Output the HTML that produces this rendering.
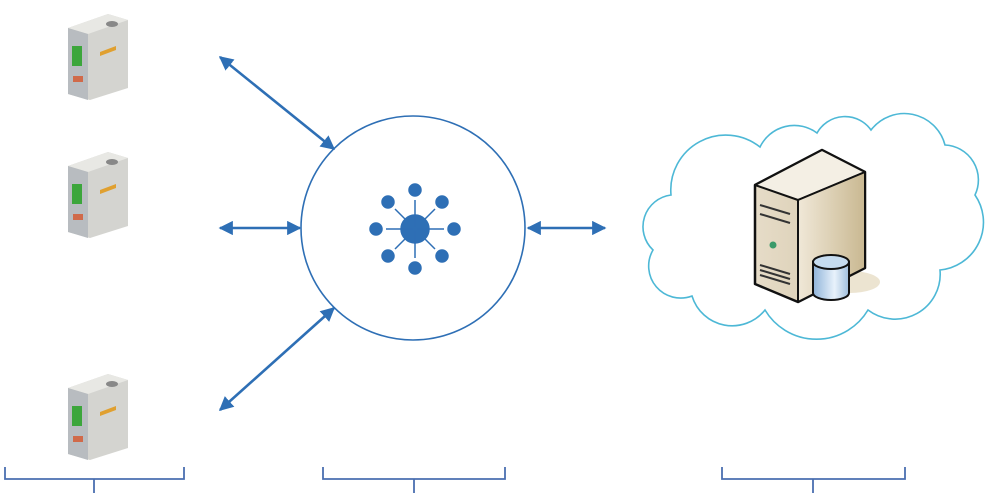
<!DOCTYPE html>
<html><head><meta charset="utf-8"><style>html,body{margin:0;padding:0;background:#fff}svg{display:block}</style></head>
<body>
<svg width="988" height="496" viewBox="0 0 988 496" xmlns="http://www.w3.org/2000/svg">
<defs>
<marker id="ah" viewBox="0 0 10 10" refX="9" refY="5" markerWidth="5.5" markerHeight="5.5" orient="auto-start-reverse"><path d="M0,0 L10,5 L0,10 z" fill="#2e6fb5"/></marker>
<linearGradient id="cyl" x1="0" x2="1"><stop offset="0" stop-color="#8fb3d9"/><stop offset="0.6" stop-color="#e8f2fb"/><stop offset="1" stop-color="#9ebddc"/></linearGradient>
<linearGradient id="front" x1="0" x2="1"><stop offset="0" stop-color="#e6dcc8"/><stop offset="1" stop-color="#d4c6a8"/></linearGradient>
<linearGradient id="side" x1="0" x2="1"><stop offset="0" stop-color="#f0e8d8"/><stop offset="1" stop-color="#c9b891"/></linearGradient>
<g id="dev">
<path d="M8,18 L48,4 L68,10 L68,78 L30,90 L8,84 z" fill="#d4d4d0"/>
<path d="M8,18 L48,4 L68,10 L28,24 z" fill="#e8e8e4"/>
<path d="M8,18 L28,24 L28,90 L8,84 z" fill="#b8bcc0"/>
<rect x="12" y="36" width="10" height="20" fill="#3ca63c"/>
<rect x="13" y="66" width="10" height="6" fill="#d06a4a"/>
<path d="M40,42 L56,36 L56,40 L40,46 z" fill="#e0a030"/>
<ellipse cx="52" cy="14" rx="6" ry="3" fill="#888"/>
</g>
</defs>

<use href="#dev" x="60" y="10"/>
<use href="#dev" x="60" y="148"/>
<use href="#dev" x="60" y="370"/>

<g stroke="#2e6fb5" stroke-width="2.6" fill="none" marker-start="url(#ah)" marker-end="url(#ah)">
<line x1="220" y1="57" x2="334" y2="149"/>
<line x1="220" y1="228" x2="300" y2="228"/>
<line x1="220" y1="410" x2="334" y2="308"/>
<line x1="528" y1="228" x2="605" y2="228"/>
</g>

<circle cx="413" cy="228" r="112" fill="none" stroke="#2e6fb5" stroke-width="1.6"/>
<g fill="#2e6fb5" stroke="#2e6fb5" stroke-width="1.5">
<circle cx="415" cy="229" r="14"/>
<circle cx="415" cy="190" r="6"/><circle cx="415" cy="268" r="6"/>
<circle cx="376" cy="229" r="6"/><circle cx="454" cy="229" r="6"/>
<circle cx="388" cy="202" r="6"/><circle cx="442" cy="202" r="6"/>
<circle cx="388" cy="256" r="6"/><circle cx="442" cy="256" r="6"/>
<line x1="415" y1="200" x2="415" y2="258"/><line x1="386" y1="229" x2="444" y2="229"/>
<line x1="395" y1="209" x2="435" y2="249"/><line x1="435" y1="209" x2="395" y2="249"/>
</g>

<path d="M671,195 A55,55 0 0 1 760,147 A38,38 0 0 1 817,133 A32,32 0 0 1 871,130 A42,42 0 0 1 945,145 A35,35 0 0 1 975,195 A48,48 0 0 1 940,270 A45,45 0 0 1 868,310 A60,60 0 0 1 765,310 A42,42 0 0 1 692,296 A32,32 0 0 1 653,250 A32,32 0 0 1 671,195 z" fill="none" stroke="#4db8d6" stroke-width="1.6"/>

<g>
<ellipse cx="850" cy="282" rx="30" ry="11" fill="#e4d8be" opacity="0.7"/>
<path d="M755,185 L822,150 L865,172 L865,268 L798,302 L755,284 z" fill="url(#front)" stroke="#111" stroke-width="2.5" stroke-linejoin="round"/>
<path d="M755,185 L822,150 L865,172 L798,200 z" fill="#f4efe4" stroke="#111" stroke-width="2" stroke-linejoin="round"/>
<path d="M798,200 L865,172 L865,268 L798,302 z" fill="url(#side)" stroke="#111" stroke-width="2" stroke-linejoin="round"/>
<g stroke="#333" stroke-width="2"><line x1="760" y1="205" x2="790" y2="214"/><line x1="760" y1="214" x2="790" y2="223"/><line x1="760" y1="265" x2="790" y2="274"/><line x1="760" y1="270" x2="790" y2="279"/><line x1="760" y1="275" x2="790" y2="284"/></g>
<circle cx="773" cy="245" r="3.5" fill="#3a9a6a"/>
<path d="M813,262 L813,293 A18,7 0 0 0 849,293 L849,262 z" fill="url(#cyl)" stroke="#111" stroke-width="2"/>
<ellipse cx="831" cy="262" rx="18" ry="7" fill="#c6dcf0" stroke="#111" stroke-width="2"/>
</g>

<g fill="none" stroke="#4a6fb0" stroke-width="1.8">
<path d="M5,467 L5,479 L184,479 L184,467 M94,479 L94,493"/>
<path d="M323,467 L323,479 L505,479 L505,467 M414,479 L414,493"/>
<path d="M722,467 L722,479 L905,479 L905,467 M813,479 L813,493"/>
</g>
</svg>
</body></html>
